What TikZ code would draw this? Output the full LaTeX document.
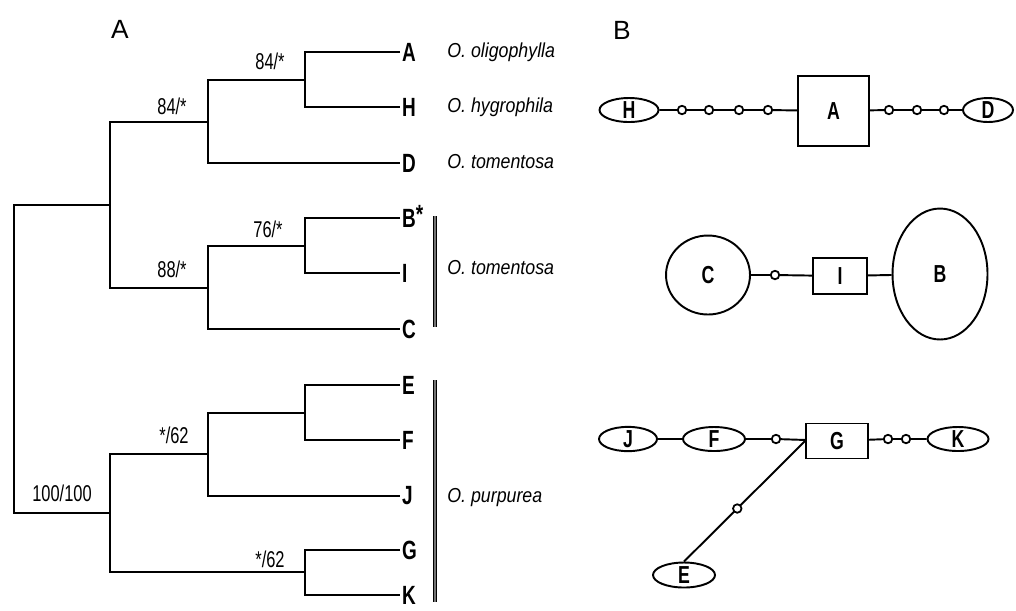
\documentclass[tikz,border=0pt]{standalone}
\usepackage{fontspec}
\setmainfont{Liberation Sans}
\newfontfamily\narrowfont[FakeStretch=0.72]{Liberation Sans}
\newfontfamily\specfont[FakeStretch=0.88]{Liberation Sans}
\usetikzlibrary{shapes.geometric}
\tikzset{
  branch/.style={line width=1.15pt},
  bar/.style={line width=0.6pt, double=black!55, double distance=1.1pt},
  leaf/.style={anchor=west, inner sep=1pt, font=\narrowfont\bfseries\fontsize{15}{15}\selectfont},
  support/.style={inner sep=0pt, font=\narrowfont\fontsize{13}{13}\selectfont},
  species/.style={anchor=west, inner sep=0pt, font=\specfont\itshape\fontsize{11.5}{12}\selectfont},
  panel/.style={inner sep=0pt, font=\fontsize{15}{15}\selectfont},
  hap/.style={draw, ellipse, line width=1.1pt, inner sep=0pt, font=\narrowfont\bfseries\fontsize{14}{14}\selectfont},
  hapbox/.style={draw, rectangle, line width=1.1pt, inner sep=0pt, font=\narrowfont\bfseries\fontsize{14}{14}\selectfont},
  mv/.style={draw, circle, fill=white, line width=1pt, minimum size=0.17cm, inner sep=0pt},
  link/.style={line width=1.1pt}
}
\begin{document}
\begin{tikzpicture}[x=0.02cm, y=-0.02cm]
        \useasboundingbox (0,0) rectangle (1016,610);
        \newcommand{\figtwotipx}{400}
        \newcommand{\figtwospx}{447}
        \newcommand{\figtwobarx}{435}
        \node[panel] (pA) at (120,29) {A};
        \node[panel] (pB) at (622,30) {B};
        \node[leaf] (lA) at (\figtwotipx,52) {A};
        \node[leaf] (lH) at (\figtwotipx,107) {H};
        \node[leaf] (lD) at (\figtwotipx,163) {D};
        \node[leaf] (lB) at (\figtwotipx,218) {B\smash{\raisebox{2pt}{*}}};
        \node[leaf] (lI) at (\figtwotipx,273) {I};
        \node[leaf] (lC) at (\figtwotipx,329) {C};
        \node[leaf] (lE) at (\figtwotipx,385) {E};
        \node[leaf] (lF) at (\figtwotipx,440) {F};
        \node[leaf] (lJ) at (\figtwotipx,496) {J};
        \node[leaf] (lG) at (\figtwotipx,550) {G};
        \node[leaf] (lK) at (\figtwotipx,595) {K};
        \coordinate (nAH) at (305,80);
        \coordinate (nAHD) at (208,122);
        \coordinate (nBI) at (305,246);
        \coordinate (nBIC) at (208,288);
        \coordinate (nTop) at (110,205);
        \coordinate (nEF) at (305,413);
        \coordinate (nEFJ) at (208,454);
        \coordinate (nGK) at (305,572);
        \coordinate (nBot) at (110,513);
        \coordinate (nRoot) at (14,359);
        \draw[branch] (lA.west) -| (nAH) |- (lH.west);
        \draw[branch] (nAH) -| (nAHD) |- (lD.west);
        \draw[branch] (lB.west) -| (nBI) |- (lI.west);
        \draw[branch] (nBI) -| (nBIC) |- (lC.west);
        \draw[branch] (nAHD) -| (nTop) |- (nBIC);
        \draw[branch] (lE.west) -| (nEF) |- (lF.west);
        \draw[branch] (nEF) -| (nEFJ) |- (lJ.west);
        \draw[branch] (lG.west) -| (nGK) |- (lK.west);
        \draw[branch] (nEFJ) -| (nBot) |- (nGK);
        \draw[branch] (nTop) -| (nRoot) |- (nBot);
        \node[support] (sAH) at (270,61) {84/*};
        \node[support] (sAHD) at (172,106) {84/*};
        \node[support] (sBI) at (268,229) {76/*};
        \node[support] (sBIC) at (172,269) {88/*};
        \node[support] (sEFJ) at (174,435) {*/62};
        \node[support] (sGK) at (270,559) {*/62};
        \node[support] (sBot) at (62,493) {100/100};
        \draw[bar] (\figtwobarx,216) -- (\figtwobarx,327);
        \draw[bar] (\figtwobarx,380) -- (\figtwobarx,602);
        \node[species] (tOli) at (\figtwospx,52) {O. oligophylla};
        \node[species] (tHyg) at (\figtwospx,107) {O. hygrophila};
        \node[species] (tTomA) at (\figtwospx,162) {O. tomentosa};
        \node[species] (tTomB) at (\figtwospx,268) {O. tomentosa};
        \node[species] (tPur) at (\figtwospx,498) {O. purpurea};
        \node[hap, minimum width=1.18cm, minimum height=0.48cm] (hH) at (629,110) {H};
        \node[mv] (m1) at (682,110) {};
        \node[mv] (m2) at (709,110) {};
        \node[mv] (m3) at (739,110) {};
        \node[mv] (m4) at (768,110) {};
        \node[hapbox, minimum width=1.42cm, minimum height=1.40cm] (hA) at (833.5,111) {A};
        \node[mv] (m5) at (889,110) {};
        \node[mv] (m6) at (917,110) {};
        \node[mv] (m7) at (944,110) {};
        \node[hap, minimum width=1.0cm, minimum height=0.48cm] (hD) at (988,110) {D};
        \draw[link] (hH) -- (m1) -- (m2) -- (m3) -- (m4) -- (hA) -- (m5) -- (m6) -- (m7) -- (hD);
        \node[hap, minimum width=1.68cm, minimum height=1.58cm] (hC) at (708,275) {C};
        \node[mv] (m8) at (775,275) {};
        \node[hapbox, minimum width=1.08cm, minimum height=0.72cm] (hI) at (840,276) {I};
        \node[hap, minimum width=1.9cm, minimum height=2.62cm] (hB) at (940,274) {B};
        \draw[link] (hC) -- (m8) -- (hI) -- (hB);
        \node[hap, minimum width=1.16cm, minimum height=0.48cm] (hJ) at (628,439) {J};
        \node[hap, minimum width=1.24cm, minimum height=0.48cm] (hF) at (714,439) {F};
        \node[mv] (m9) at (776,439) {};
        \node[hapbox, minimum width=1.24cm, minimum height=0.70cm] (hG) at (837,441) {G};
        \node[mv] (m10) at (888,439) {};
        \node[mv] (m11) at (906,439) {};
        \node[hap, minimum width=1.22cm, minimum height=0.48cm] (hK) at (958,439) {K};
        \node[hap, minimum width=1.24cm, minimum height=0.50cm] (hE) at (684,575) {E};
        \draw[link] (hJ) -- (hF) -- (m9) -- (hG) -- (m10) -- (m11) -- (hK);
        \draw[link] (hE.north) -- node[mv, pos=0.44] (m12) {} (hG.west);
\end{tikzpicture}
\end{document}
